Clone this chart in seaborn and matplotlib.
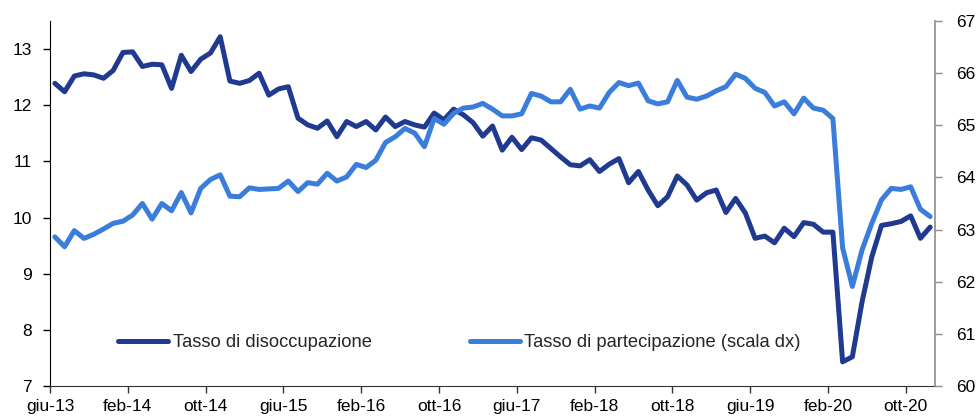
import numpy as np
import pandas as pd
import seaborn as sns
from matplotlib import pyplot as plt

# dati mensili giu-13 .. dic-20
disoccupazione = [12.39, 12.24, 12.52, 12.56, 12.54, 12.48, 12.62, 12.94, 12.95, 12.69,
                  12.73, 12.72, 12.30, 12.89, 12.60, 12.82, 12.93, 13.22, 12.43, 12.39,
                  12.44, 12.57, 12.18, 12.29, 12.33, 11.77, 11.65, 11.59, 11.72, 11.44,
                  11.71, 11.62, 11.71, 11.56, 11.79, 11.62, 11.71, 11.65, 11.61, 11.86,
                  11.74, 11.93, 11.83, 11.69, 11.45, 11.63, 11.20, 11.43, 11.21, 11.42,
                  11.38, 11.23, 11.08, 10.94, 10.92, 11.03, 10.82, 10.95, 11.05, 10.62,
                  10.82, 10.49, 10.21, 10.37, 10.74, 10.58, 10.31, 10.44, 10.49, 10.09,
                  10.34, 10.08, 9.63, 9.67, 9.55, 9.81, 9.66, 9.91, 9.88, 9.74,
                  9.74, 7.43, 7.52, 8.50, 9.30, 9.86, 9.89, 9.93, 10.03, 9.63,
                  9.83]
partecipazione = [62.86, 62.67, 62.98, 62.83, 62.91, 63.01, 63.12, 63.16, 63.28, 63.50,
                  63.20, 63.50, 63.36, 63.71, 63.32, 63.79, 63.96, 64.05, 63.64, 63.63,
                  63.80, 63.77, 63.78, 63.79, 63.93, 63.73, 63.90, 63.87, 64.08, 63.93,
                  64.01, 64.25, 64.19, 64.33, 64.67, 64.78, 64.94, 64.85, 64.59, 65.13,
                  65.02, 65.23, 65.33, 65.35, 65.42, 65.31, 65.18, 65.18, 65.22, 65.61,
                  65.56, 65.45, 65.45, 65.69, 65.31, 65.37, 65.33, 65.63, 65.82, 65.76,
                  65.81, 65.47, 65.41, 65.45, 65.86, 65.54, 65.50, 65.56, 65.66, 65.74,
                  65.98, 65.90, 65.71, 65.63, 65.37, 65.45, 65.22, 65.52, 65.33, 65.29,
                  65.13, 62.65, 61.91, 62.61, 63.12, 63.57, 63.79, 63.77, 63.82, 63.39,
                  63.25]
tick_labels = ['giu-13', 'feb-14', 'ott-14', 'giu-15', 'feb-16', 'ott-16',
               'giu-17', 'feb-18', 'ott-18', 'giu-19', 'feb-20', 'ott-20']

df = pd.DataFrame({'mese': np.arange(len(disoccupazione)) + 0.5,  # punti a metà mese
                   'disoccupazione': disoccupazione,
                   'partecipazione': partecipazione})

sns.set_style('white')
plt.rcParams['font.family'] = ['Liberation Sans', 'DejaVu Sans']

dark = '#1F3A8F'
light = '#3A7DDB'

fig = plt.figure(figsize=(9.76, 4.19), dpi=100)
ax = fig.add_axes([50 / 976, 1 - 386 / 419, 885 / 976, 365 / 419])
ax2 = ax.twinx()

sns.lineplot(data=df, x='mese', y='disoccupazione', ax=ax, color=dark, linewidth=3.6,
             solid_joinstyle='round', solid_capstyle='round', label='Tasso di disoccupazione',
             legend=False)
sns.lineplot(data=df, x='mese', y='partecipazione', ax=ax2, color=light, linewidth=3.6,
             solid_joinstyle='round', solid_capstyle='round',
             label='Tasso di partecipazione (scala dx)', legend=False)

ax.set_xlim(0, 91)
ax.set_ylim(7, 13.5)
ax.set_yticks(range(7, 14))
ax2.set_ylim(60, 67)
ax2.set_yticks(range(60, 68))
ax.set_xticks(range(0, 89, 8))
ax.set_xticklabels(tick_labels)
ax.set_xlabel('')
ax.set_ylabel('')
ax2.set_ylabel('')

for s in ['top', 'right']:
    ax.spines[s].set_visible(False)
for s in ['top', 'left', 'bottom']:
    ax2.spines[s].set_visible(False)
ax.spines['left'].set_color('black')
ax.spines['bottom'].set_color('#333333')
ax2.spines['right'].set_color('#8c8c8c')
ax2.spines['right'].set_linewidth(1.2)

ax.tick_params(axis='both', direction='out', length=5, width=1, labelsize=12.5,
               colors='black', pad=8, left=True, bottom=True)
ax.tick_params(axis='x', color='#333333', pad=4)
ax2.tick_params(axis='y', direction='out', length=5, width=1, labelsize=12.5,
                color='#8c8c8c', labelcolor='black', pad=10, right=True)

h1, l1 = ax.get_legend_handles_labels()
h2, l2 = ax2.get_legend_handles_labels()
ax2.legend(h1 + h2, l1 + l2, loc='center left', bbox_to_anchor=(68 / 885, 0.118),
           ncol=2, frameon=False, fontsize=13.2, handlelength=2.73, handletextpad=0.25,
           columnspacing=5.35, borderaxespad=0, borderpad=0)

plt.savefig('out.png', dpi=100)
